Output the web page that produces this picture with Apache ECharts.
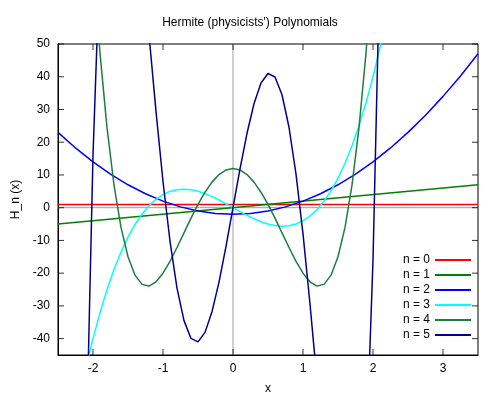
<!DOCTYPE html><html><head><meta charset="utf-8"><script src="https://cdn.jsdelivr.net/npm/echarts@6/dist/echarts.min.js"></script></head><body style="margin:0"><div id="c" style="width:500px;height:400px"></div><script>
const names=['n = 0','n = 1','n = 2','n = 3','n = 4','n = 5'];
const colors=['#ff0000','#008000','#0000ff','#00ffff','#1e7e3e','#00008b'];
const xTicks=[-2,-1,0,1,2,3];
const yTicks=[-40,-30,-20,-10,0,10,20,30,40,50];
const xWide=[-2.5,3.5];
const h0=[1,1];
const h1=[-5,7];
const xH2=[-2.5,-2.25,-2,-1.75,-1.5,-1.25,-1,-0.75,-0.5,-0.25,0,0.25,0.5,0.75,1,1.25,1.5,1.75,2,2.25,2.5,2.75,3,3.25,3.5];
const h2=[23,18.25,14,10.25,7,4.25,2,0.25,-1,-1.75,-2,-1.75,-1,0.25,2,4.25,7,10.25,14,18.25,23,28.25,34,40.25,47];
const xS=[-2.2,-2.1,-2,-1.9,-1.8,-1.7,-1.6,-1.5,-1.4,-1.3,-1.2,-1.1,-1,-0.9,-0.8,-0.7,-0.6,-0.5,-0.4,-0.3,-0.2,-0.1,0,0.1,0.2,0.3,0.4,0.5,0.6,0.7,0.8,0.9,1,1.1,1.2,1.3,1.4,1.5,1.6,1.7,1.8,1.9,2,2.1,2.2];
const h3=[-58.78,-48.89,-40,-32.07,-25.06,-18.9,-13.57,-9,-5.15,-1.98,0.58,2.55,4,4.97,5.5,5.66,5.47,5,4.29,3.38,2.34,1.19,0,-1.19,-2.34,-3.38,-4.29,-5,-5.47,-5.66,-5.5,-4.97,-4,-2.55,-0.58,1.98,5.15,9,13.57,18.9,25.06,32.07,40,48.89,58.78];
const h4=[160,111.49,76,47.23,24.44,6.91,-6.02,-15,-20.61,-23.42,-23.94,-22.65,-20,-16.38,-12.17,-7.68,-3.21,1,4.73,7.81,10.11,11.52,12,11.52,10.11,7.81,4.73,1,-3.21,-7.68,-12.17,-16.38,-20,-22.65,-23.94,-23.42,-20.61,-15,-6.02,6.91,24.44,47.23,76,111.49,160];
const h5=[-160,-77.15,16,77.09,112.46,127.73,127.82,117,98.94,76.71,52.85,29.42,8,-10.26,-24.57,-34.5,-39.93,-41,-38.09,-31.76,-22.73,-11.84,0,11.84,22.73,31.76,38.09,41,39.93,34.5,24.57,10.26,-8,-29.42,-52.85,-76.71,-98.94,-117,-127.82,-127.73,-112.46,-77.09,-16,77.15,160];
const z=(xs,ys)=>xs.map((x,i)=>[x,ys[i]]);
const data=[z(xWide,h0),z(xWide,h1),z(xH2,h2),z(xS,h3),z(xS,h4),z(xS,h5)];
const font='Liberation Sans';
const line={onZero:false,lineStyle:{color:'#000'}};
const ax={min:-2.5,max:3.5,axisLine:line,splitLine:{show:false},axisTick:{show:false}};
const tickSer=(d,size,off)=>({type:'scatter',data:d,symbol:'rect',symbolSize:size,symbolOffset:off,itemStyle:{color:'#000'},silent:true,clip:false,z:5});
const series=[
 {type:'line',data:[[-2.5,0],[3.5,0]],symbol:'none',lineStyle:{color:'#a0a0a0',width:1},silent:true,z:1},
 {type:'line',data:[[0,-45],[0,50]],symbol:'none',lineStyle:{color:'#a0a0a0',width:1},silent:true,z:1},
 tickSer(xTicks.map(v=>[v,-45]),[1,6],[0,-3]),
 tickSer(xTicks.map(v=>[v,50]),[1,6],[0,3]),
 tickSer(yTicks.map(v=>[-2.5,v]),[6,1],[3,0]),
 tickSer(yTicks.map(v=>[3.5,v]),[6,1],[-3,0])
].concat(data.map((d,i)=>({name:names[i],type:'line',data:d,symbol:'none',color:colors[i],lineStyle:{width:1.5,color:colors[i]},z:2})));
const chart=echarts.init(document.getElementById('c'));
chart.setOption({animation:false,backgroundColor:'#fff',
 textStyle:{fontFamily:font},
 title:{text:"Hermite (physicists') Polynomials",left:'center',top:12,textStyle:{fontFamily:font,fontSize:12,fontWeight:'normal',color:'#000'}},
 grid:{left:58,right:22,top:44,bottom:45,show:true,borderColor:'#000',borderWidth:1},
 legend:{orient:'vertical',right:24,bottom:54,align:'right',icon:'rect',itemWidth:36,itemHeight:2,itemGap:3,data:names,textStyle:{fontFamily:font,fontSize:12,color:'#000'}},
 xAxis:[Object.assign({type:'value',name:'x',nameLocation:'middle',nameGap:28,nameTextStyle:{fontSize:12,color:'#000'},axisLabel:{customValues:xTicks,color:'#000',fontSize:12}},ax)],
 yAxis:[{type:'value',min:-45,max:50,name:'H_n (x)',nameLocation:'middle',nameGap:36,nameTextStyle:{fontSize:12,color:'#000'},axisLine:line,splitLine:{show:false},axisTick:{show:false},axisLabel:{customValues:yTicks,color:'#000',fontSize:12}}],
 series:series});
</script></body></html>
